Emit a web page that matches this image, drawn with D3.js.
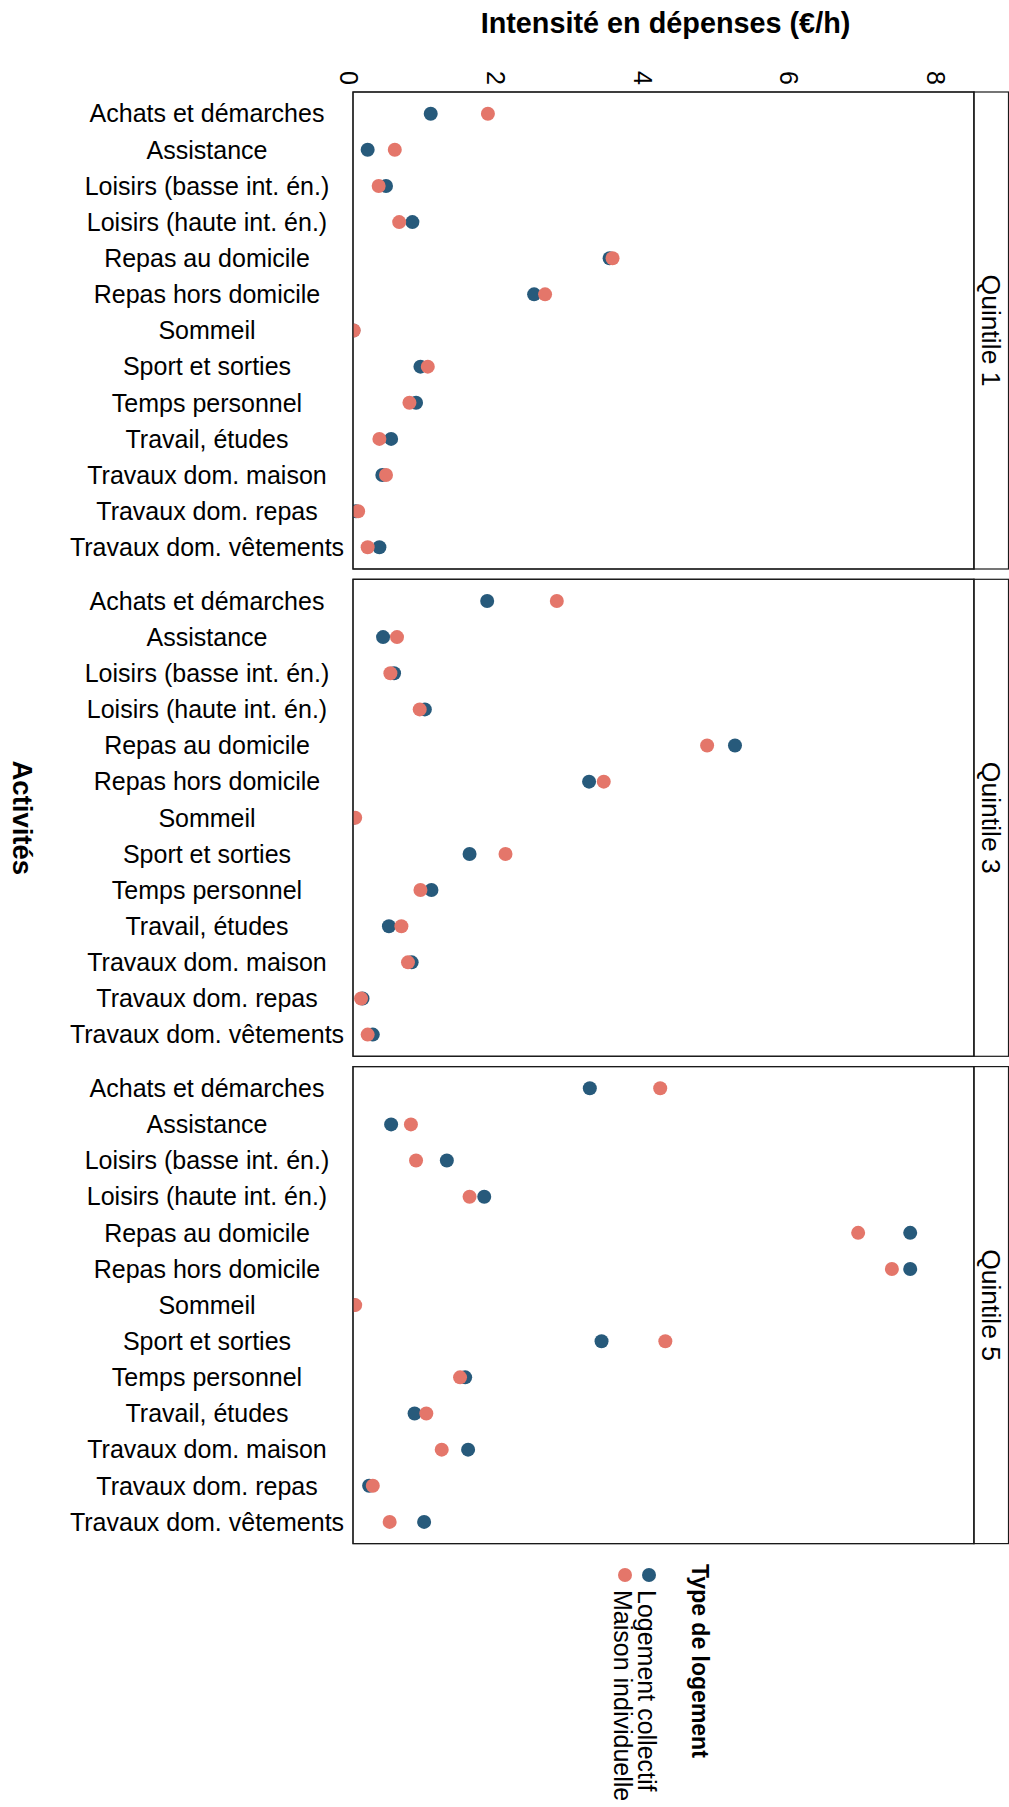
<!DOCTYPE html>
<html><head><meta charset="utf-8">
<script src="https://cdn.jsdelivr.net/npm/d3@7"></script>
<style>body{margin:0;background:#fff}svg{display:block}text{font-family:"Liberation Sans",Arial,Helvetica,sans-serif;fill:#000}</style>
</head><body>
<script>
const activities = ["Achats et démarches","Assistance","Loisirs (basse int. én.)","Loisirs (haute int. én.)","Repas au domicile","Repas hors domicile","Sommeil","Sport et sorties","Temps personnel","Travail, études","Travaux dom. maison","Travaux dom. repas","Travaux dom. vêtements"];
const quintiles = ["Quintile 1","Quintile 3","Quintile 5"];
const seriesNames = ["Logement collectif","Maison individuelle"];
const xTicks = [0,2,4,6,8];
// Logement collectif, per quintile (same order as activities)
const collectifQ1 = [1.06,0.20,0.45,0.81,3.50,2.47,0.005,0.92,0.86,0.52,0.40,0.04,0.36];
const collectifQ3 = [1.83,0.41,0.56,0.98,5.21,3.22,0.005,1.59,1.07,0.49,0.80,0.13,0.27];
const collectifQ5 = [3.23,0.52,1.28,1.79,7.60,7.60,0.005,3.39,1.53,0.84,1.57,0.22,0.97];
// Maison individuelle
const maisonQ1 = [1.84,0.57,0.35,0.63,3.54,2.62,0.01,1.02,0.77,0.36,0.45,0.07,0.20];
const maisonQ3 = [2.78,0.60,0.51,0.91,4.83,3.42,0.03,2.08,0.92,0.66,0.75,0.11,0.20];
const maisonQ5 = [4.19,0.79,0.86,1.59,6.89,7.35,0.03,4.26,1.46,1.00,1.21,0.27,0.50];

const collectif = [collectifQ1,collectifQ3,collectifQ5];
const maison = [maisonQ1,maisonQ3,maisonQ5];
const colors = ["#275a7b","#e4766a"];

const W=1009,H=1807;
const svg=d3.select("body").append("svg").attr("width",W).attr("height",H);

const pL=353, pR=974, stripR=1008.5, pH=477, gap=10.3, top0=92;
const x=d3.scaleLinear().domain([0,8.47]).range([pL,pR]);

// title
svg.append("text").attr("x",(pL+pR)/2+2).attr("y",33).attr("text-anchor","middle")
  .attr("font-weight","bold").attr("font-size",28.8).text("Intensité en dépenses (€/h)");

// x tick labels (rotated)
svg.selectAll("text.xt").data(xTicks).join("text").attr("class","xt")
  .attr("transform",d=>`translate(${x(d)-4},78) rotate(90)`)
  .attr("text-anchor","middle").attr("dy","0.35em").attr("font-size",25).text(d=>d);

// y axis title
svg.append("text").attr("transform",`translate(23,${top0+(3*pH+2*gap)/2}) rotate(90)`)
  .attr("text-anchor","middle").attr("dy","0.35em").attr("font-weight","bold").attr("font-size",27.5).text("Activités");

quintiles.forEach((q,i)=>{
  const t=top0+i*(pH+gap);
  const y=d3.scalePoint().domain(activities).range([t,t+pH]).padding(0.6);
  const g=svg.append("g");
  g.append("rect").attr("x",pL).attr("y",t).attr("width",pR-pL).attr("height",pH)
    .attr("fill","#fff").attr("stroke","#1a1a1a").attr("stroke-width",1.2);
  g.append("rect").attr("x",pR).attr("y",t).attr("width",stripR-pR).attr("height",pH)
    .attr("fill","#fff").attr("stroke","#1a1a1a").attr("stroke-width",1.2);
  g.append("text").attr("transform",`translate(${(pR+stripR)/2},${t+pH/2}) rotate(90)`)
    .attr("text-anchor","middle").attr("dy","0.35em").attr("font-size",26.5).text(q);
  // category labels
  g.selectAll("text.cat").data(activities).join("text").attr("class","cat")
    .attr("x",207).attr("y",d=>y(d)).attr("dy","0.35em").attr("text-anchor","middle")
    .attr("font-size",25).text(d=>d);
  const clip="clip"+i;
  svg.append("clipPath").attr("id",clip).append("rect").attr("x",pL).attr("y",t).attr("width",pR-pL).attr("height",pH);
  const pg=g.append("g").attr("clip-path",`url(#${clip})`);
  [collectif[i],maison[i]].forEach((vals,s)=>{
    pg.selectAll(null).data(vals).join("circle")
      .attr("cx",d=>x(d)).attr("cy",(d,k)=>y(activities[k])).attr("r",7).attr("fill",colors[s]);
  });
  g.append("rect").attr("x",pL).attr("y",t).attr("width",pR-pL).attr("height",pH)
    .attr("fill","none").attr("stroke","#1a1a1a").attr("stroke-width",1.2);
});

// legend
const lg=svg.append("g");
lg.append("text").attr("transform","translate(700,1564) rotate(90)").attr("dy","0.35em")
  .attr("font-weight","bold").attr("font-size",23).text("Type de logement");
const lx=[649,625];
seriesNames.forEach((n,s)=>{
  lg.append("circle").attr("cx",lx[s]).attr("cy",1575).attr("r",7).attr("fill",colors[s]);
  lg.append("text").attr("transform",`translate(${lx[s]-2},1590) rotate(90)`).attr("dy","0.35em")
    .attr("font-size",25).text(n);
});
</script>
</body></html>
